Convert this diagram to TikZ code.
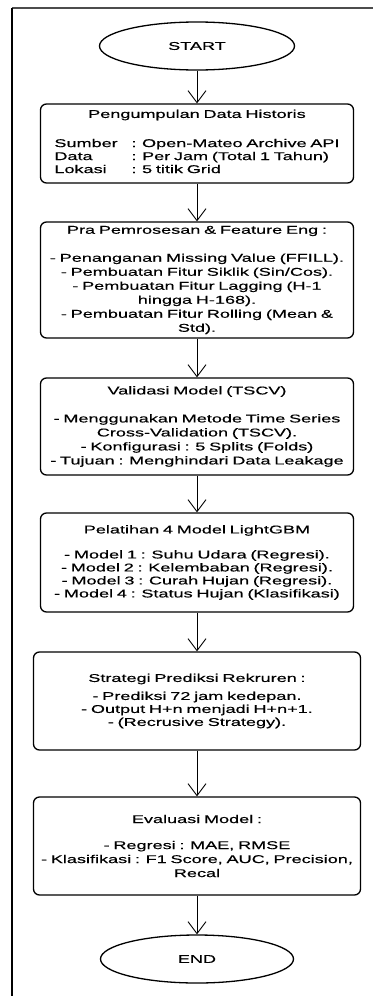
\documentclass[tikz,border=0pt]{standalone}
\usepackage{fontspec}
\setmainfont[FakeStretch=1.6,FakeBold=0.4]{Liberation Sans}
\usetikzlibrary{arrows.meta,shapes.geometric}

\begin{document}
\begin{tikzpicture}[x=1pt,y=1pt,
    proses/.style={draw,rounded corners=6pt,line width=1.3pt,minimum width=313pt,text width=309pt,align=center,inner sep=0pt,font=\fontsize{11.3}{14}\selectfont},
    proseslebar/.style={proses,minimum width=327pt,text width=323pt},
    terminal/.style={draw,ellipse,line width=1.3pt,minimum width=195pt,minimum height=48pt,inner sep=0pt,font=\fontsize{11.3}{14}\selectfont},
    panah/.style={line width=0.9pt,-{Straight Barb[length=12pt,width=18pt,line width=0.9pt]}}]
    \useasboundingbox (0,0) rectangle (373,-996);
    \draw[line width=1.5pt,gray!60!black] (12,-8) -- (373,-8);
    \draw[line width=1.5pt] (12,-8) -- (12,-996);
    \node[terminal] (start) at (197,-46) {START};
    \node[proses,minimum height=79pt] (kumpul) at (197,-143.5) {Pengumpulan Data Historis\\[16pt]
        \begin{tabular}{@{}p{77pt}@{}l@{}}
        Sumber & : Open-Mateo Archive API\\[-1pt]
        Data & : Per Jam (Total 1 Tahun)\\[-1pt]
        Lokasi & : 5 titik Grid
        \end{tabular}\hspace*{19pt}};
    \node[proses,minimum height=116pt] (pra) at (197,-280) {Pra Pemrosesan \& Feature Eng :\\[14pt]
        - Penanganan Missing Value (FFILL).\\
        - Pembuatan Fitur Siklik (Sin/Cos).\\
        - Pembuatan Fitur Lagging (H-1\\
        hingga H-168).\\
        - Pembuatan Fitur Rolling (Mean \&\\
        Std).};
    \node[proses,minimum height=97pt] (validasi) at (197,-426.5) {Validasi Model (TSCV)\\[14pt]
        - Menggunakan Metode Time Series\\
        Cross-Validation (TSCV).\\
        - Konfigurasi : 5 Splits (Folds)\\
        - Tujuan : Menghindari Data Leakage};
    \node[proses,minimum height=99pt] (latih) at (197,-562.5) {Pelatihan 4 Model LightGBM\\[11pt]
        - Model 1 : Suhu Udara (Regresi).\\[-1pt]
        - Model 2 : Kelembaban (Regresi).\\[-1pt]
        - Model 3 : Curah Hujan (Regresi).\\[-1pt]
        - Model 4 : Status Hujan (Klasifikasi)};
    \node[proseslebar,minimum height=98pt] (strategi) at (197,-701) {Strategi Prediksi Rekruren :\\[4pt]
        - Prediksi 72 jam kedepan.\\[-1pt]
        - Output H+n menjadi H+n+1.\\[-1pt]
        - (Recrusive Strategy).};
    \node[proseslebar,minimum height=98pt] (evaluasi) at (197,-846) {Evaluasi Model :\\[12pt]
        - Regresi : MAE, RMSE\\
        - Klasifikasi : F1 Score, AUC, Precision,\\
        Recal};
    \node[terminal,minimum width=193pt] (end) at (197,-959) {END};
    \foreach \a/\b in {start/kumpul,kumpul/pra,pra/validasi,validasi/latih,latih/strategi,strategi/evaluasi,evaluasi/end}
        \draw[panah] (\a) -- (\b);
\end{tikzpicture}
\end{document}
